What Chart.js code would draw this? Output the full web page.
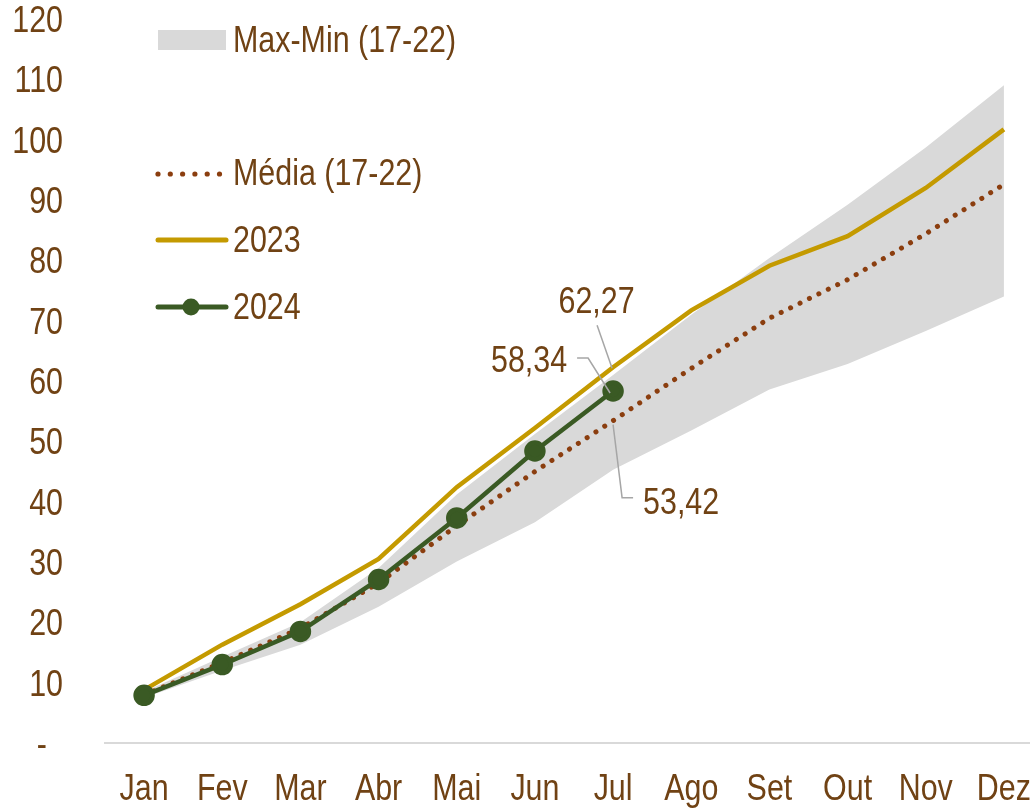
<!DOCTYPE html>
<html>
<head>
<meta charset="utf-8">
<script src="https://cdn.jsdelivr.net/npm/chart.js@4"></script>
<style>
  html, body { margin: 0; padding: 0; background: #fff; overflow: hidden; }
  /* plot runs a little past the right edge, as in the source picture */
  #wrap { width: 1043px; height: 808px; position: relative; }
</style>
</head>
<body>
<div id="wrap"><canvas id="prodChart"></canvas></div>
<script>
const months = ['Jan','Fev','Mar','Abr','Mai','Jun','Jul','Ago','Set','Out','Nov','Dez'];
const bandMax = [8.5, 14.3, 20, 29, 41.2, 51.2, 61, 71, 80.4, 89.2, 98.7, 109];
const bandMin = [7.5, 12, 16.3, 22.6, 30.1, 36.6, 45.3, 51.8, 58.6, 62.8, 68.3, 74];
const media = [8, 13.3, 19, 26.5, 36, 45, 53.42, 62.1, 70.4, 76.8, 84.4, 92.6];
const y2023 = [8.8, 16.3, 23, 30.5, 42.4, 52.2, 62.27, 71.7, 79.1, 84, 92, 101.7];
const y2024 = [7.9, 13, 18.5, 27.1, 37.3, 48.4, 58.34];
const yTicks = [0, 10, 20, 30, 40, 50, 60, 70, 80, 90, 100, 110, 120];

const brown = '#704214';
const gold = '#c49a00';
const green = '#3a5a24';
const dotBrown = '#8b3e0f';
const band = '#d9d9d9';

const fmt = v => v.toFixed(2).replace('.', ',');

// narrow-looking text: squeeze Liberation Sans horizontally
function narrowText(c, txt, x, y, align) {
  c.save();
  c.font = '36px "Liberation Sans", Arial, sans-serif';
  c.textBaseline = 'alphabetic';
  c.textAlign = align;
  c.translate(x, y);
  c.scale(0.845, 1);
  c.fillText(txt, 0, 0);
  c.restore();
}

// legend, axis labels and value labels
const extras = {
  id: 'extras',
  afterDraw(chart) {
    const c = chart.ctx;
    const xs = chart.scales.x, ys = chart.scales.y;
    const area = chart.chartArea;
    c.save();

    // legend symbols
    c.fillStyle = band;
    c.fillRect(158, 30, 68, 20);
    c.fillStyle = dotBrown;
    for (let i = 0; i < 6; i++) {
      c.beginPath(); c.arc(158 + i * 12.3, 174, 2.6, 0, Math.PI * 2); c.fill();
    }
    c.lineCap = 'round';
    c.lineWidth = 5;
    c.strokeStyle = gold;
    c.beginPath(); c.moveTo(158, 240); c.lineTo(226, 240); c.stroke();
    c.strokeStyle = green;
    c.beginPath(); c.moveTo(158, 307); c.lineTo(226, 307); c.stroke();
    c.fillStyle = green;
    c.beginPath(); c.arc(191, 307, 8.5, 0, Math.PI * 2); c.fill();

    c.fillStyle = brown;
    narrowText(c, 'Max-Min (17-22)', 233, 52, 'left');
    narrowText(c, 'Média (17-22)', 233, 185, 'left');
    narrowText(c, '2023', 233, 252, 'left');
    narrowText(c, '2024', 233, 319, 'left');

    // month labels
    months.forEach((m, i) => {
      narrowText(c, m, xs.getPixelForValue(i), area.bottom + 57, 'center');
    });
    // value axis labels
    yTicks.forEach(v => {
      const py = ys.getPixelForValue(v);
      if (v === 0) narrowText(c, '-', 47, py + 13, 'right');
      else narrowText(c, String(v), 63, py + 13, 'right');
    });

    // value labels at Jul
    const j = 6;
    const x = xs.getPixelForValue(j);
    const p23 = ys.getPixelForValue(y2023[j]);
    const p24 = ys.getPixelForValue(y2024[j]);
    const pm = ys.getPixelForValue(media[j]);

    c.strokeStyle = '#a6a6a6';
    c.lineWidth = 1.5;
    c.lineCap = 'butt';
    c.beginPath(); c.moveTo(x - 16, p23 - 42); c.lineTo(x - 1, p23 + 1); c.stroke();
    c.beginPath(); c.moveTo(x - 36, p24 - 33); c.lineTo(x - 25, p24 - 33); c.lineTo(x - 3, p24 + 2); c.stroke();
    c.beginPath(); c.moveTo(x, pm + 4); c.lineTo(x + 9, pm + 77); c.lineTo(x + 20, pm + 77); c.stroke();

    c.fillStyle = brown;
    narrowText(c, fmt(y2023[j]), x - 16.5, p23 - 54, 'center');
    narrowText(c, fmt(y2024[j]), x - 46, p24 - 19, 'right');
    narrowText(c, fmt(media[j]), x + 30, pm + 93, 'left');
    c.restore();
  }
};

const ctx = document.getElementById('prodChart').getContext('2d');
let prodChart = new Chart(ctx, {
  type: 'line',
  data: {
    labels: months,
    datasets: [
      { label: '2024', data: y2024, borderColor: green, backgroundColor: green,
        borderWidth: 4.5, pointRadius: 8.5, pointHoverRadius: 8.5, fill: false },
      { label: '2023', data: y2023, borderColor: gold, borderWidth: 4.5,
        pointRadius: 0, fill: false },
      { label: 'Média (17-22)', data: media, borderColor: dotBrown, borderWidth: 5,
        borderDash: [0.1, 10.4], borderCapStyle: 'round', pointRadius: 0, fill: false },
      { label: 'Max', data: bandMax, borderWidth: 0, borderColor: 'rgba(0,0,0,0)',
        backgroundColor: band, pointRadius: 0, fill: '+1' },
      { label: 'Min', data: bandMin, borderWidth: 0, borderColor: 'rgba(0,0,0,0)',
        pointRadius: 0, fill: false }
    ]
  },
  options: {
    responsive: true,
    maintainAspectRatio: false,
    animation: false,
    events: [],
    layout: { padding: { top: 19, right: 0, left: 0, bottom: 0 }, autoPadding: false },
    plugins: { legend: { display: false }, tooltip: { enabled: false } },
    scales: {
      x: {
        offset: true,
        grid: { display: false, drawTicks: false },
        border: { display: true, color: '#d9d9d9', width: 2 },
        ticks: { display: false },
        afterFit: s => { s.height = 65; s.paddingLeft = 0; s.paddingRight = 0; }
      },
      y: {
        min: 0, max: 120,
        afterBuildTicks: s => { s.ticks = yTicks.map(v => ({ value: v })); },
        grid: { display: false, drawTicks: false },
        border: { display: false },
        ticks: { display: false },
        afterFit: s => { s.width = 105; s.paddingTop = 0; s.paddingBottom = 0; }
      }
    }
  },
  plugins: [extras]
});
</script>
</body>
</html>
